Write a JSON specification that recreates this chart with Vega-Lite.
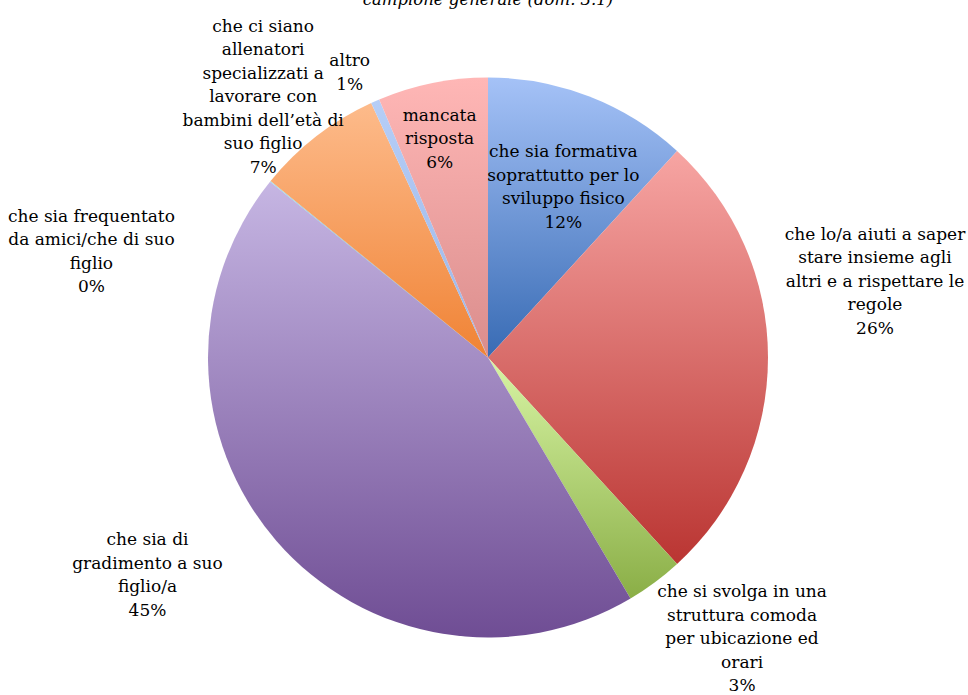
{
  "$schema": "https://vega.github.io/schema/vega-lite/v6.json",
  "autosize": {"type": "none"},
  "width": 960,
  "height": 675,
  "padding": {"left": 8, "top": 20, "right": 0, "bottom": 0},
  "background": "white",
  "title": {
    "text": "campione generale (dom. 3.1)",
    "font": "DejaVu Serif",
    "fontStyle": "italic",
    "fontWeight": "normal",
    "fontSize": 16.5,
    "color": "#000000",
    "baseline": "alphabetic",
    "offset": -4,
    "anchor": "middle"
  },
  "config": {"view": {"stroke": null}},
  "data": {
    "values": [
      {"ord": 1, "cat": "formativa", "value": 11.8, "label": "che sia formativa\nsoprattutto per lo\nsviluppo fisico\n12%"},
      {"ord": 2, "cat": "insieme", "value": 26.4, "label": "che lo/a aiuti a saper\nstare insieme agli\naltri e a rispettare le\nregole\n26%"},
      {"ord": 3, "cat": "struttura", "value": 3.3, "label": "che si svolga in una\nstruttura comoda\nper ubicazione ed\norari\n3%"},
      {"ord": 4, "cat": "gradimento", "value": 44.3, "label": "che sia di\ngradimento a suo\nfiglio/a\n45%"},
      {"ord": 5, "cat": "amici", "value": 0.05, "label": "che sia frequentato\nda amici/che di suo\nfiglio\n0%"},
      {"ord": 6, "cat": "allenatori", "value": 7.3, "label": "che ci siano\nallenatori\nspecializzati a\nlavorare con\nbambini dell’età di\nsuo figlio\n7%"},
      {"ord": 7, "cat": "altro", "value": 0.5, "label": "altro\n1%"},
      {"ord": 8, "cat": "mancata", "value": 6.35, "label": "mancata\nrisposta\n6%"}
    ]
  },
  "encoding": {
    "theta": {"field": "value", "type": "quantitative", "stack": true},
    "order": {"field": "ord", "type": "quantitative"}
  },
  "layer": [
    {
      "mark": {"type": "arc", "outerRadius": 280},
      "encoding": {
        "fill": {
          "condition": [
            {"test": "datum.cat === 'formativa'", "value": {"gradient": "linear", "x1": 0, "y1": 0, "x2": 0, "y2": 1, "stops": [{"offset": 0, "color": "#A5C2F7"}, {"offset": 1, "color": "#386BB4"}]}},
            {"test": "datum.cat === 'insieme'", "value": {"gradient": "linear", "x1": 0, "y1": 0, "x2": 0, "y2": 1, "stops": [{"offset": 0, "color": "#F7A5A3"}, {"offset": 1, "color": "#BA3532"}]}},
            {"test": "datum.cat === 'struttura'", "value": {"gradient": "linear", "x1": 0, "y1": 0, "x2": 0, "y2": 1, "stops": [{"offset": 0, "color": "#D8F5A5"}, {"offset": 1, "color": "#8AAE46"}]}},
            {"test": "datum.cat === 'gradimento'", "value": {"gradient": "linear", "x1": 0, "y1": 0, "x2": 0, "y2": 1, "stops": [{"offset": 0, "color": "#C6B6E3"}, {"offset": 1, "color": "#6F4D94"}]}},
            {"test": "datum.cat === 'amici'", "value": {"gradient": "linear", "x1": 0, "y1": 0, "x2": 0, "y2": 1, "stops": [{"offset": 0, "color": "#9EDCEB"}, {"offset": 1, "color": "#3F9DB8"}]}},
            {"test": "datum.cat === 'allenatori'", "value": {"gradient": "linear", "x1": 0, "y1": 0, "x2": 0, "y2": 1, "stops": [{"offset": 0, "color": "#FDBB8B"}, {"offset": 1, "color": "#F08335"}]}},
            {"test": "datum.cat === 'altro'", "value": {"gradient": "linear", "x1": 0, "y1": 0, "x2": 0, "y2": 1, "stops": [{"offset": 0, "color": "#B6CEF7"}, {"offset": 1, "color": "#9CB6E8"}]}}
          ],
          "value": {"gradient": "linear", "x1": 0, "y1": 0, "x2": 0, "y2": 1, "stops": [{"offset": 0, "color": "#FFB7B6"}, {"offset": 1, "color": "#DA8D8C"}]}
        }
      }
    },
    {
      "mark": {
        "type": "text",
        "radius": {"expr": "datum.cat === 'formativa' ? 186 : datum.cat === 'insieme' ? 387 : datum.cat === 'struttura' ? 378 : datum.cat === 'gradimento' ? 400 : datum.cat === 'amici' ? 375 : datum.cat === 'allenatori' ? 344 : datum.cat === 'altro' ? 316 : 224"},
        "dx": {"expr": "datum.cat === 'formativa' ? 8 : datum.cat === 'insieme' ? 0 : datum.cat === 'struttura' ? 29 : datum.cat === 'gradimento' ? -38 : datum.cat === 'amici' ? -105 : datum.cat === 'allenatori' ? -14 : datum.cat === 'altro' ? -11 : -4"},
        "dy": {"expr": "datum.cat === 'formativa' ? -32 : datum.cat === 'insieme' ? -123 : datum.cat === 'struttura' ? -69 : datum.cat === 'gradimento' ? -79 : datum.cat === 'amici' ? 95 : datum.cat === 'allenatori' ? -59 : datum.cat === 'altro' ? -7 : -22"},
        "font": "DejaVu Serif",
        "fontSize": 17,
        "lineBreak": "\n",
        "lineHeight": 23.5,
        "align": "center",
        "baseline": "middle",
        "color": "#000000"
      },
      "encoding": {"text": {"field": "label", "type": "nominal"}}
    }
  ]
}
